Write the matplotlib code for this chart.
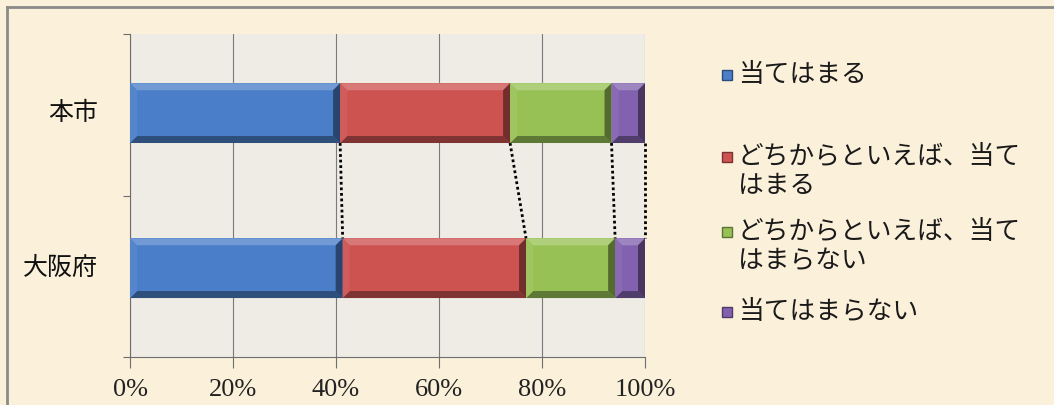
import matplotlib
matplotlib.use("Agg")
import matplotlib.pyplot as plt
from matplotlib.patches import Rectangle, Polygon
from matplotlib.lines import Line2D
from matplotlib.colors import to_rgb
import numpy as np

plt.rcParams['font.family'] = ['Noto Sans CJK JP', 'DejaVu Sans']

# Data
categories = ["本市", "大阪府"]
legend_labels = ["当てはまる", "どちからといえば、当て\nはまる", "どちからといえば、当て\nはまらない", "当てはまらない"]
values_honshi = [40.8, 33.0, 19.7, 6.5]
values_osaka = [41.3, 35.6, 17.3, 5.8]
tick_labels = ["0%", "20%", "40%", "60%", "80%", "100%"]

colors = ["#4A7EC8", "#CD5350", "#98C155", "#8262AE"]


def shade(c, f):
    r, g, b = to_rgb(c)
    if f >= 1:
        t = f - 1
        return (r + (1 - r) * t, g + (1 - g) * t, b + (1 - b) * t)
    return (r * f, g * f, b * f)


W, H = 1054, 405
fig = plt.figure(figsize=(W / 100, H / 100), dpi=100)
fig.patch.set_facecolor("#FBF0DA")

# frame lines on the left and top edge
fig.add_artist(Line2D([7 / W, 7 / W], [0, 1 - 7 / H], transform=fig.transFigure,
                      color="#8A8A8A", lw=2.0))
fig.add_artist(Line2D([7 / W, 1], [1 - 7 / H, 1 - 7 / H], transform=fig.transFigure,
                      color="#8A8A8A", lw=2.0))

ax_l, ax_r, ax_t, ax_b = 130, 645, 34, 357
ax = fig.add_axes([ax_l / W, 1 - ax_b / H, (ax_r - ax_l) / W, (ax_b - ax_t) / H])
ax.set_facecolor("#EEECE5")
ax.set_xlim(0, 100)
ax.set_ylim(0, 2)

ypos = [1.51, 0.55]
bar_h = 0.37
px_x = 100 / (ax_r - ax_l)
px_y = 2 / (ax_b - ax_t)
bev = 7

ax.set_xticks(np.arange(0, 101, 20))
ax.set_xticklabels(tick_labels, family=['Liberation Serif'], fontsize=19, color="#222222")
ax.set_yticks([0, 1, 2])
ax.set_yticklabels([])
ax.tick_params(axis='x', length=8, width=0.8, color="#6E6E6E", pad=8)
ax.tick_params(axis='y', length=5, width=0.8, color="#6E6E6E")
ax.grid(axis='x', color="#7A7A7A", lw=0.8)
ax.set_axisbelow(True)
for s in ["top", "right"]:
    ax.spines[s].set_visible(False)
ax.spines["left"].set_color("#6E6E6E")
ax.spines["bottom"].set_color("#6E6E6E")
ax.spines["left"].set_linewidth(0.8)
ax.spines["bottom"].set_linewidth(0.8)

all_values = [values_honshi, values_osaka]
ends = []
for yc, vals in zip(ypos, all_values):
    left = 0.0
    row_ends = []
    for v, c in zip(vals, colors):
        ax.barh(yc, v, left=left, height=bar_h, color=c, edgecolor="none", zorder=3)
        x0, x1 = left, left + v
        y0, y1 = yc - bar_h / 2, yc + bar_h / 2
        dx, dy = bev * px_x, bev * px_y
        dx = min(dx, v / 3)
        faces = [
            ([(x0, y1), (x1, y1), (x1 - dx, y1 - dy), (x0 + dx, y1 - dy)], shade(c, 1.22)),
            ([(x0, y0), (x1, y0), (x1 - dx, y0 + dy), (x0 + dx, y0 + dy)], shade(c, 0.62)),
            ([(x0, y0), (x0, y1), (x0 + dx, y1 - dy), (x0 + dx, y0 + dy)], shade(c, 1.06)),
            ([(x1, y0), (x1, y1), (x1 - dx, y1 - dy), (x1 - dx, y0 + dy)], shade(c, 0.55)),
        ]
        for pts, fc in faces:
            ax.add_patch(Polygon(pts, closed=True, facecolor=fc, edgecolor="none", zorder=4))
        left = x1
        row_ends.append(left)
    ends.append(row_ends)

# series lines joining the segment boundaries
for a, b in zip(ends[0], ends[1]):
    ax.plot([a, b], [ypos[0] - bar_h / 2, ypos[1] + bar_h / 2], color="black",
            lw=2.0, ls=(0, (1, 1)), zorder=5, clip_on=False)

# category labels
for yc, name in zip(ypos, categories):
    ax.text(-6.2, yc, name, ha="right", va="center", fontsize=18,
            color="#111111", transform=ax.transData)

# legend
leg_y = [75, 157, 232, 312]
for (y, lab, c) in zip(leg_y, legend_labels, colors):
    fig.patches.append(Rectangle((722 / W, 1 - (y + 5) / H), 10 / W, 10 / H,
                                 transform=fig.transFigure, facecolor=c,
                                 edgecolor=shade(c, 0.6), lw=1.0))
    for i, ln in enumerate(lab.split("\n")):
        fig.text(738 / W, 1 - (y + i * 29) / H, ln, ha="left", va="center",
                 fontsize=18.5, color="#1A1A1A")

fig.savefig("out.png", dpi=100, facecolor=fig.get_facecolor())
